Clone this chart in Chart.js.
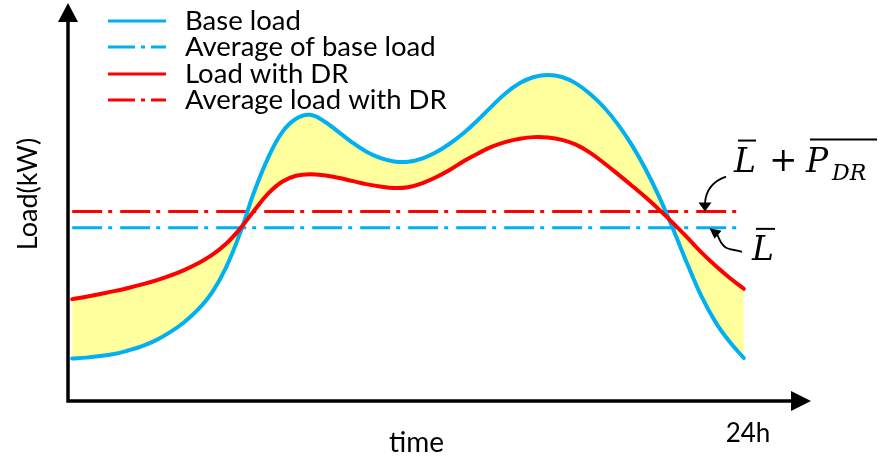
<!DOCTYPE html>
<html><head><meta charset="utf-8">
<script src="https://cdn.jsdelivr.net/npm/chart.js@4.4.0/dist/chart.umd.min.js"></script>
<style>html,body{margin:0;padding:0;background:#fff;}canvas{display:block;}</style>
</head><body>
<canvas id="c" width="878" height="460"></canvas>
<script>
// ---- data ----
const hours = [0, 0.5, 1, 1.5, 2, 2.5, 3, 3.5, 4, 4.5, 5, 5.5, 6, 6.5, 7, 7.5, 8, 8.5, 9, 9.5, 10, 10.5, 11, 11.5,
               12, 12.5, 13, 13.5, 14, 14.5, 15, 15.5, 16, 16.5, 17, 17.5, 18, 18.5, 19, 19.5, 20, 20.5, 21, 21.5,
               22, 22.5, 23, 23.5, 24];
const baseLoad = [10.7, 10.9, 11.3, 11.8, 12.7, 13.8, 15.3, 17.3, 19.8, 23.0, 27.3, 33.6, 42.2, 52.5, 61.1, 67.5,
                  70.9, 71.9, 70.3, 67.7, 65.0, 62.7, 61.1, 60.2, 60.1, 60.9, 62.5, 64.7, 67.4, 70.6, 74.1, 77.4,
                  79.9, 81.4, 81.9, 81.4, 79.8, 77.2, 73.8, 69.5, 64.3, 58.1, 50.9, 42.7, 34.1, 26.1, 19.7, 14.8, 10.8];
const drLoad = [25.6, 26.2, 26.9, 27.6, 28.4, 29.3, 30.3, 31.5, 32.9, 34.6, 36.7, 39.5, 43.3, 47.8, 52.1, 55.1,
                56.6, 57.0, 56.7, 56.1, 55.3, 54.5, 53.9, 53.5, 53.7, 54.7, 56.2, 58.1, 60.3, 62.2, 63.9, 65.1,
                65.9, 66.3, 66.2, 65.6, 64.4, 62.4, 59.8, 57.0, 54.1, 51.1, 47.9, 44.5, 40.9, 37.2, 33.9, 30.9, 28.2];
const avgHours = [0, 24];
const avgBase  = [43.5, 43.5];
const avgDR    = [47.6, 47.6];
const seriesLabels = ['Base load', 'Average of base load', 'Load with DR', 'Average load with DR'];
const xTitle = 'time';
const yTitle = 'Load(kW)';
const endLabel = '24h';

const BLUE = '#00B0F0', RED = '#FF0000', FILL = '#FFFF9E';
const pts = (xs, ys) => xs.map((h, i) => ({x: h, y: ys[i]}));
const SANS = 'Lato, "Open Sans", sans-serif';
const SERIF = '"DejaVu Serif", "Liberation Serif", serif';

const decor = {
  id: 'decor',
  afterDraw(chart) {
    const {ctx, chartArea: a, scales: {x, y}} = chart;
    ctx.save();
    // axes with arrows
    ctx.strokeStyle = '#000'; ctx.fillStyle = '#000'; ctx.lineWidth = 3.5; ctx.lineCap = 'butt';
    const ox = a.left, oy = a.bottom;
    ctx.beginPath();
    ctx.moveTo(ox, oy + 1.75); ctx.lineTo(ox, a.top + 18);
    ctx.moveTo(ox - 1.75, oy); ctx.lineTo(a.right - 18, oy);
    ctx.stroke();
    ctx.beginPath(); ctx.moveTo(ox - 10, a.top + 19); ctx.lineTo(ox + 10, a.top + 19); ctx.lineTo(ox, a.top); ctx.closePath(); ctx.fill();
    ctx.beginPath(); ctx.moveTo(a.right - 20, oy - 10); ctx.lineTo(a.right - 20, oy + 10); ctx.lineTo(a.right, oy); ctx.closePath(); ctx.fill();

    // axis titles
    ctx.textAlign = 'center'; ctx.textBaseline = 'middle';
    ctx.font = '28px ' + SANS;
    ctx.fillText(xTitle, x.getPixelForValue(12.3), 443);
    ctx.font = '26px ' + SANS;
    ctx.fillText(endLabel, x.getPixelForValue(24.15), 434);
    ctx.save();
    ctx.translate(28, 194); ctx.rotate(-Math.PI / 2);
    ctx.font = '27px ' + SANS;
    ctx.fillText(yTitle, 0, 0);
    ctx.restore();

    // legend
    const rows = [21, 47, 74, 100];
    chart.data.datasets.forEach((ds, i) => {
      const ry = rows[i];
      ctx.strokeStyle = ds.borderColor; ctx.lineWidth = 3;
      ctx.setLineDash(ds.borderDash && ds.borderDash.length ? [27, 6, 4, 6] : []);
      ctx.beginPath(); ctx.moveTo(108, ry); ctx.lineTo(166, ry); ctx.stroke();
      ctx.setLineDash([]);
      ctx.fillStyle = '#000';
      ctx.font = '27.5px ' + SANS;
      ctx.textAlign = 'left'; ctx.textBaseline = 'middle';
      ctx.fillText(ds.label, 185, ry);
    });

    // annotations: L + P_DR and L
    const yDR = y.getPixelForValue(avgDR[0]);
    const yB = y.getPixelForValue(avgBase[0]);
    ctx.fillStyle = '#000'; ctx.strokeStyle = '#000';
    ctx.textAlign = 'left'; ctx.textBaseline = 'alphabetic';
    const serif = 'italic 33px ' + SERIF;
    const b1 = yDR - 40;
    ctx.font = serif;
    ctx.fillText('L', 734, b1);
    ctx.lineWidth = 2;
    ctx.beginPath(); ctx.moveTo(738, b1 - 31); ctx.lineTo(756, b1 - 31); ctx.stroke();
    ctx.font = '34px ' + SERIF;
    ctx.fillText('+', 769, b1 - 1);
    ctx.font = serif;
    ctx.fillText('P', 806, b1);
    ctx.font = 'italic 22px ' + SERIF;
    ctx.fillText('DR', 832, b1 + 8);
    ctx.beginPath(); ctx.moveTo(810, b1 - 32); ctx.lineTo(877, b1 - 32); ctx.stroke();
    const b2 = yB + 32;
    ctx.font = serif;
    ctx.fillText('L', 752, b2);
    ctx.beginPath(); ctx.moveTo(756, b2 - 31); ctx.lineTo(775, b2 - 31); ctx.stroke();

    // arrow 1 (to average load with DR)
    ctx.lineWidth = 1.8;
    ctx.beginPath(); ctx.moveTo(726, yDR - 35); ctx.quadraticCurveTo(706, yDR - 28, 705, yDR - 8); ctx.stroke();
    ctx.beginPath(); ctx.moveTo(698.5, yDR - 9); ctx.lineTo(711.5, yDR - 9); ctx.lineTo(705, yDR); ctx.closePath(); ctx.fill();
    // arrow 2 (to average of base load)
    ctx.beginPath(); ctx.moveTo(742, yB + 24); ctx.bezierCurveTo(731, yB + 20, 724, yB + 25, 717.5, yB + 7); ctx.stroke();
    ctx.beginPath(); ctx.moveTo(709.5, yB + 0.5); ctx.lineTo(721.5, yB + 3); ctx.lineTo(714.5, yB + 11); ctx.closePath(); ctx.fill();
    ctx.restore();
  }
};

new Chart(document.getElementById('c'), {
  type: 'line',
  data: {
    datasets: [
      {label: seriesLabels[0], data: pts(hours, baseLoad), borderColor: BLUE, borderWidth: 4, borderCapStyle: 'round',
       pointRadius: 0, tension: 0.4, fill: {target: 2}, backgroundColor: FILL, order: 1},
      {label: seriesLabels[1], data: pts(avgHours, avgBase), borderColor: BLUE, borderWidth: 3, borderDash: [30, 6, 4, 8],
       pointRadius: 0, fill: false, order: 3},
      {label: seriesLabels[2], data: pts(hours, drLoad), borderColor: RED, borderWidth: 4, borderCapStyle: 'round',
       pointRadius: 0, tension: 0.4, fill: false, order: 0},
      {label: seriesLabels[3], data: pts(avgHours, avgDR), borderColor: RED, borderWidth: 3, borderDash: [30, 6, 4, 8],
       pointRadius: 0, fill: false, order: 2}
    ]
  },
  options: {
    responsive: false, animation: false, events: [],
    layout: {padding: {left: 68, right: 67, top: 3, bottom: 59}},
    scales: {
      x: {type: 'linear', min: -0.15, max: 26.4, display: false},
      y: {type: 'linear', min: 0, max: 100, display: false}
    },
    plugins: {legend: {display: false}, tooltip: {enabled: false}, filler: {drawTime: 'beforeDatasetsDraw'}}
  },
  plugins: [decor]
});
</script>
</body></html>
